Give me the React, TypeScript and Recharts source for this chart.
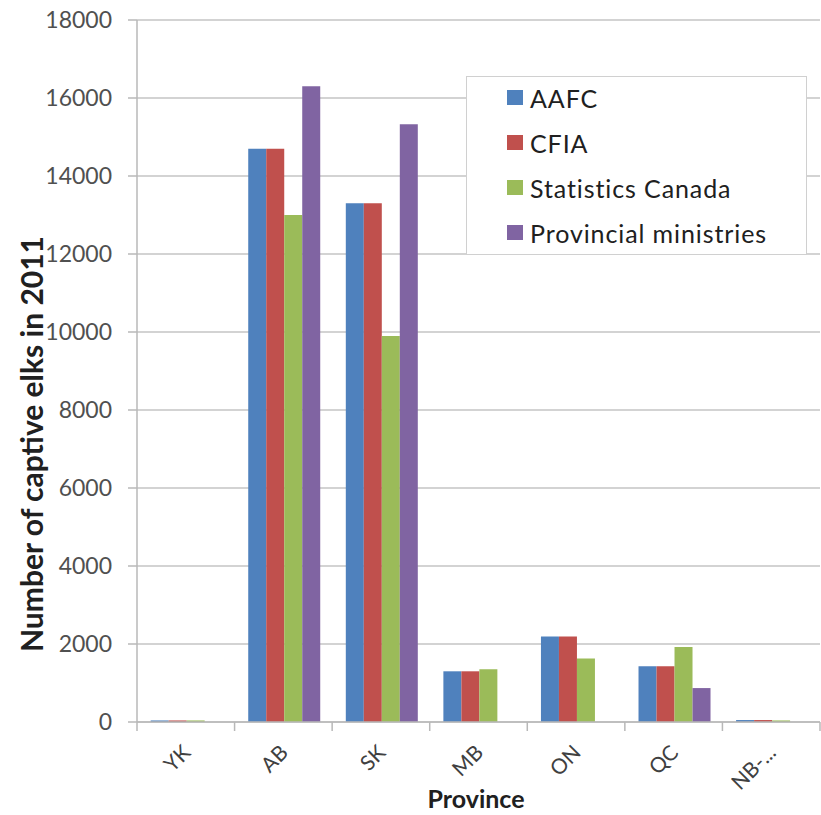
import { BarChart, Bar, XAxis, YAxis, CartesianGrid, Legend } from "recharts";

const provinces = ["YK", "AB", "SK", "MB", "ON", "QC", "NB-..."];
const aafc = [40, 14700, 13300, 1300, 2190, 1430, 50];
const cfia = [40, 14700, 13300, 1300, 2190, 1430, 50];
const statsCanada = [40, 13000, 9900, 1350, 1630, 1920, 40];
const provincialMinistries = [0, 16300, 15330, 0, 0, 870, 0];
const yTicks = [0, 2000, 4000, 6000, 8000, 10000, 12000, 14000, 16000, 18000];

const series = [
  { key: "aafc", name: "AAFC", color: "#4F81BD" },
  { key: "cfia", name: "CFIA", color: "#C0504D" },
  { key: "stats", name: "Statistics Canada", color: "#9BBB59" },
  { key: "prov", name: "Provincial ministries", color: "#8064A2" },
];

const data = provinces.map((p, i) => ({
  province: p,
  aafc: aafc[i],
  cfia: cfia[i],
  stats: statsCanada[i],
  prov: provincialMinistries[i],
}));

const FONT = "Lato, 'Open Sans', sans-serif";
const AXIS_GREY = "#b8b8b8";

// label rotated -45deg, plus Excel-style tick marks between categories
function XTick({
  x,
  y,
  index,
  payload,
}: {
  x?: number;
  y?: number;
  index?: number;
  payload?: { value: string; offset?: number };
}) {
  const cx = x ?? 0;
  const top = (y ?? 0) - 8;
  const half = payload?.offset ?? 0;
  const tx = cx + 6;
  const ty = top + 32;
  return (
    <g>
      <line x1={cx - half} x2={cx - half} y1={top} y2={top + 9} stroke={AXIS_GREY} strokeWidth={1.5} />
      {index === provinces.length - 1 && (
        <line x1={cx + half} x2={cx + half} y1={top} y2={top + 9} stroke={AXIS_GREY} strokeWidth={1.5} />
      )}
      <text
        x={tx}
        y={ty}
        textAnchor="end"
        transform={`rotate(-45 ${tx} ${ty})`}
        fontSize={21}
        fill="#404040"
        fontFamily={FONT}
      >
        {payload?.value}
      </text>
    </g>
  );
}

function YTitle() {
  return (
    <text
      x={43}
      y={444}
      textAnchor="middle"
      transform="rotate(-90 43 444)"
      fontSize={30}
      fontWeight={700}
      fill="#202020"
      fontFamily={FONT}
    >
      Number of captive elks in 2011
    </text>
  );
}

function XTitle() {
  return (
    <text x={476} y={808} textAnchor="middle" fontSize={25} fontWeight={700} fill="#202020" fontFamily={FONT}>
      Province
    </text>
  );
}

function LegendBox() {
  return (
    <div
      style={{
        border: "1px solid #d0d0d0",
        background: "#fff",
        width: 341,
        height: 179,
        boxSizing: "border-box",
        paddingLeft: 40,
        fontFamily: FONT,
        fontSize: 25,
        letterSpacing: 0.9,
        color: "#202020",
        textAlign: "left",
      }}
    >
      <div style={{ marginTop: -2 }}>
        {series.map((s) => (
          <div key={s.key} style={{ display: "flex", alignItems: "center", height: 45 }}>
            <span style={{ width: 16, height: 15, background: s.color, marginRight: 7, display: "inline-block" }} />
            <span>{s.name}</span>
          </div>
        ))}
      </div>
    </div>
  );
}

export default function App() {
  return (
    <div style={{ position: "absolute", left: 0, top: 0, width: 821, height: 815, background: "#fff" }}>
      <BarChart
        width={821}
        height={815}
        data={data}
        margin={{ top: 20, right: 1, bottom: 0, left: 0 }}
        barCategoryGap="14%"
        barGap={0}
      >
        <CartesianGrid vertical={false} stroke="#c4c4c4" strokeWidth={1.5} />
        <XAxis
          dataKey="province"
          tick={<XTick />}
          tickLine={false}
          axisLine={{ stroke: AXIS_GREY, strokeWidth: 1.5 }}
          interval={0}
          height={93}
          label={<XTitle />}
        />
        <YAxis
          domain={[0, 18000]}
          ticks={yTicks}
          width={137}
          interval={0}
          tick={{ fontSize: 23, fill: "#505050", fontFamily: FONT }}
          tickLine={{ stroke: AXIS_GREY, strokeWidth: 1.5 }}
          tickSize={9}
          tickMargin={16}
          axisLine={{ stroke: AXIS_GREY, strokeWidth: 1.5 }}
          label={<YTitle />}
        />
        <Legend
          content={<LegendBox />}
          layout="vertical"
          align="center"
          verticalAlign="middle"
          wrapperStyle={{ position: "absolute", left: 466, top: 76, width: 341, height: 179 }}
        />
        {series.map((s) => (
          <Bar key={s.key} dataKey={s.key} name={s.name} fill={s.color} isAnimationActive={false} />
        ))}
      </BarChart>
    </div>
  );
}
